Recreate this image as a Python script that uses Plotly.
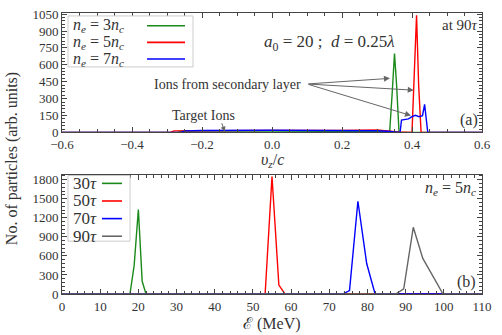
import plotly.graph_objects as go
from plotly.subplots import make_subplots

# ---- Panel (a): velocity spectra at 90 tau ----
vz_3nc = [-0.6, -0.27, -0.26, -0.2, 0.0, 0.2, 0.26, 0.30, 0.33, 0.336, 0.343, 0.350, 0.356, 0.363, 0.37, 0.6]
n_3nc = [0, 0, 10, 12, 12, 12, 10, 8, 4, 0, 330, 700, 420, 0, 0, 0]

vz_5nc = [-0.6, -0.29, -0.28, -0.2, 0.0, 0.2, 0.27, 0.30, 0.33, 0.36, 0.40, 0.406, 0.413, 0.419, 0.426, 0.6]
n_5nc = [0, 0, 14, 17, 18, 18, 20, 22, 14, 5, 0, 480, 1040, 420, 0, 0]

vz_7nc = [-0.6, -0.26, -0.25, -0.2, 0.0, 0.2, 0.26, 0.30, 0.33, 0.36, 0.366, 0.37, 0.38, 0.39, 0.40, 0.41,
          0.42, 0.43, 0.436, 0.44, 0.445, 0.6]
n_7nc = [0, 0, 14, 17, 19, 20, 18, 15, 10, 5, 0, 110, 112, 120, 140, 152, 140, 148, 250, 110, 0, 0]

# ---- Panel (b): energy spectra for n_e = 5 n_c ----
E_30 = [0, 17.8, 18.9, 20.0, 21.0, 22.0, 110]
N_30 = [0, 0, 450, 1330, 200, 0, 0]
E_50 = [0, 53.2, 55.0, 56.8, 58.4, 110]
N_50 = [0, 0, 1850, 140, 0, 0]
E_70 = [0, 73.5, 75.3, 77.5, 79.8, 82.0, 110]
N_70 = [0, 0, 55, 1460, 480, 0, 0]
E_90 = [0, 87.4, 89.5, 92.0, 94.5, 99.8, 110]
N_90 = [0, 0, 80, 1050, 560, 0, 0]

top_names = ["<i>n<sub>e</sub></i> = 3<i>n<sub>c</sub></i>",
             "<i>n<sub>e</sub></i> = 5<i>n<sub>c</sub></i>",
             "<i>n<sub>e</sub></i> = 7<i>n<sub>c</sub></i>"]
bot_names = ["30<i>τ</i>", "50<i>τ</i>", "70<i>τ</i>", "90<i>τ</i>"]

GREEN = "#1a8a1a"
RED = "#ff0000"
BLUE = "#0000ff"
GRAY = "#666666"
top_colors = [GREEN, RED, BLUE]
bot_colors = [GREEN, RED, BLUE, GRAY]
FONT = "Liberation Serif"

fig = make_subplots(rows=2, cols=1, vertical_spacing=0.15)

for xs, ys, nm, c in zip([vz_3nc, vz_5nc, vz_7nc], [n_3nc, n_5nc, n_7nc], top_names, top_colors):
    fig.add_trace(go.Scatter(x=xs, y=ys, mode="lines", name=nm, showlegend=False,
                             line=dict(color=c, width=1.4)), row=1, col=1)

for xs, ys, nm, c in zip([E_30, E_50, E_70, E_90], [N_30, N_50, N_70, N_90], bot_names, bot_colors):
    fig.add_trace(go.Scatter(x=xs, y=ys, mode="lines", name=nm, showlegend=False,
                             line=dict(color=c, width=1.4)), row=2, col=1)

axis_common = dict(showline=True, linecolor="#444", linewidth=1, mirror="ticks",
                   ticks="inside", ticklen=5, tickcolor="#444", showgrid=False, zeroline=False,
                   tickfont=dict(family=FONT, size=13, color="#333"))

fig.update_xaxes(range=[-0.6, 0.6], dtick=0.2, tick0=-0.6,
                 minor=dict(dtick=0.05, ticks="inside", ticklen=3, tickcolor="#444"),
                 tickformat=".1f", **axis_common, row=1, col=1)
fig.update_yaxes(range=[0, 1060], dtick=150, tick0=0,
                 minor=dict(dtick=30, ticks="inside", ticklen=3, tickcolor="#444"),
                 **axis_common, row=1, col=1)
fig.update_xaxes(range=[0, 110], dtick=10, tick0=0,
                 minor=dict(dtick=2, ticks="inside", ticklen=3, tickcolor="#444"),
                 **axis_common, row=2, col=1)
fig.update_yaxes(range=[0, 1880], dtick=300, tick0=0,
                 minor=dict(dtick=60, ticks="inside", ticklen=3, tickcolor="#444"),
                 **axis_common, row=2, col=1)

fig.update_layout(
    xaxis=dict(domain=[0, 1]), yaxis=dict(domain=[0.575, 1.0]),
    xaxis2=dict(domain=[0, 1]), yaxis2=dict(domain=[0.0, 0.425]),
)

fig.update_layout(
    width=502, height=335,
    margin=dict(l=62, r=20, t=7, b=41),
    plot_bgcolor="white", paper_bgcolor="white",
    font=dict(family=FONT, size=14, color="#333"),
    showlegend=False,
)

ann = []
shapes = []

# ---- legends (text followed by line sample, as in the original) ----
shapes.append(dict(type="rect", xref="paper", yref="paper", x0=0.0143, x1=0.312, y0=0.808, y1=0.9895,
                   fillcolor="white", line=dict(color="#cccccc", width=1), layer="above"))
for nm, c, ty in zip(top_names, top_colors, [0.9547, 0.8955, 0.8362]):
    ann.append(dict(text=nm, xref="paper", yref="paper", x=0.0214, y=ty, xanchor="left",
                    yanchor="middle", showarrow=False, font=dict(size=16)))
    shapes.append(dict(type="line", xref="paper", yref="paper", x0=0.2024, x1=0.2929,
                       y0=ty, y1=ty, line=dict(color=c, width=1.6), layer="above"))

shapes.append(dict(type="rect", xref="paper", yref="paper", x0=0.0143, x1=0.162, y0=0.188, y1=0.4216,
                   fillcolor="white", line=dict(color="#cccccc", width=1), layer="above"))
for nm, c, ty in zip(bot_names, bot_colors, [0.3937, 0.331, 0.2683, 0.2056]):
    ann.append(dict(text=nm, xref="paper", yref="paper", x=0.0214, y=ty, xanchor="left",
                    yanchor="middle", showarrow=False, font=dict(size=17)))
    shapes.append(dict(type="line", xref="paper", yref="paper", x0=0.0952, x1=0.1429,
                       y0=ty, y1=ty, line=dict(color=c, width=1.6), layer="above"))

# axis titles
ann.append(dict(text="<i>υ<sub>z</sub></i>/<i>c</i>", xref="paper", yref="paper", x=0.5, y=0.475,
                yanchor="middle", showarrow=False, font=dict(size=16)))
ann.append(dict(text="ℰ (MeV)", xref="paper", yref="paper", x=0.5, y=-0.106,
                yanchor="middle", showarrow=False, font=dict(size=16)))
ann.append(dict(text="No. of particles (arb. units)", xref="paper", yref="paper",
                x=-0.119, y=0.48, textangle=-90, xanchor="center", yanchor="middle",
                showarrow=False, font=dict(size=16)))
# panel (a) texts
ann.append(dict(text="<i>a</i><sub>0</sub> = 20 ;  <i>d</i> = 0.25<i>λ</i>", xref="x", yref="y",
                x=0.165, y=790, showarrow=False, font=dict(size=17)))
ann.append(dict(text="at 90<i>τ</i>", xref="x", yref="y", x=0.595, y=1045,
                xanchor="right", yanchor="top", showarrow=False, font=dict(size=15)))
ann.append(dict(text="(a)", xref="x", yref="y", x=0.595, y=10,
                xanchor="right", yanchor="bottom", showarrow=False, font=dict(size=16)))
ann.append(dict(text="Ions from secondary layer", xref="x", yref="y", x=-0.128, y=425,
                showarrow=False, font=dict(size=14)))
for tx, ty in [(0.337, 480), (0.405, 375), (0.397, 150)]:
    ann.append(dict(text="", xref="x", yref="y", x=tx, y=ty, axref="x", ayref="y",
                    ax=0.1, ay=430, showarrow=True, arrowhead=2, arrowsize=1.2,
                    arrowwidth=1, arrowcolor="#666"))
ann.append(dict(text="Target Ions", xref="x", yref="y", x=-0.195, y=150,
                showarrow=False, font=dict(size=14)))
ann.append(dict(text="", xref="x", yref="y", x=-0.135, y=8, axref="x", ayref="y",
                ax=-0.145, ay=95, showarrow=True, arrowhead=2, arrowsize=1,
                arrowwidth=1, arrowcolor="#666"))
# panel (b) texts
ann.append(dict(text="<i>n<sub>e</sub></i> = 5<i>n<sub>c</sub></i>", xref="x2", yref="y2",
                x=109, y=1840, xanchor="right", yanchor="top", showarrow=False, font=dict(size=16)))
ann.append(dict(text="(b)", xref="x2", yref="y2", x=109, y=20,
                xanchor="right", yanchor="bottom", showarrow=False, font=dict(size=16)))
fig.update_layout(annotations=ann, shapes=shapes)

fig.write_html("out.html", post_script="document.body.style.margin='0';",
               config={"displayModeBar": False})
